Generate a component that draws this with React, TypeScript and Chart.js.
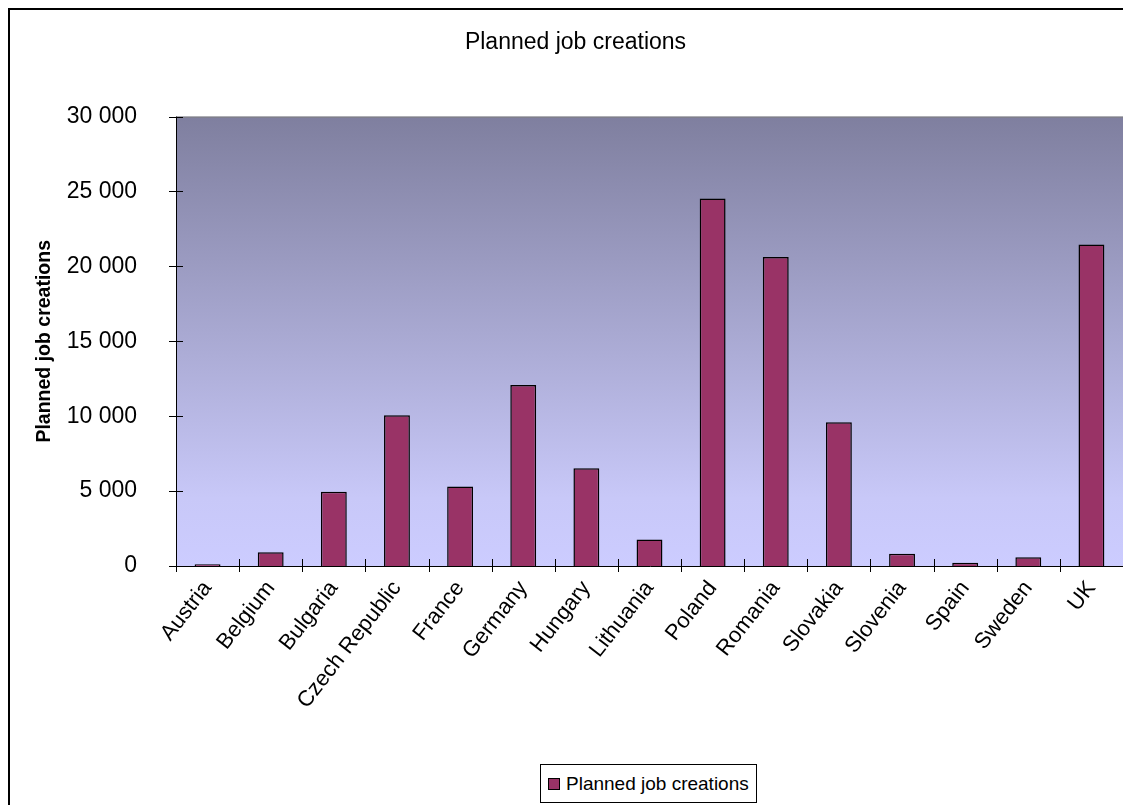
import React, { useEffect, useRef } from "react";
import { Chart, registerables } from "chart.js";

Chart.register(...registerables);

const categories = [
  "Austria", "Belgium", "Bulgaria", "Czech Republic", "France", "Germany", "Hungary",
  "Lithuania", "Poland", "Romania", "Slovakia", "Slovenia", "Spain", "Sweden", "UK",
];
const jobValues = [110, 920, 4950, 10070, 5300, 12080, 6520, 1770, 24530, 20620, 9590, 820, 220, 580, 21460];
const seriesName = "Planned job creations";
const chartTitle = "Planned job creations";
const yAxisTitle = "Planned job creations";
const yMin = 0;
const yMax = 30000;
const yStep = 5000;

const FONT = "'Liberation Sans', Arial, Helvetica, sans-serif";
const BAR_COLOR = "#993366";

function fmt(v: number): string {
  return String(v).replace(/\B(?=(\d{3})+(?!\d))/g, " ");
}

const decorPlugin = {
  id: "decor",
  beforeDraw(chart: any) {
    const { ctx, chartArea, width } = chart;
    ctx.save();
    ctx.fillStyle = "#000";
    ctx.fillRect(0, 0, 2, chart.height);
    ctx.fillRect(0, 0, width, 2);
    const g = ctx.createLinearGradient(0, chartArea.top, 0, chartArea.bottom);
    g.addColorStop(0, "#7f7f9f");
    g.addColorStop(0.85, "#c8c8f8");
    g.addColorStop(1, "#ccccff");
    ctx.fillStyle = g;
    ctx.fillRect(chartArea.left, chartArea.top, chartArea.right - chartArea.left, chartArea.bottom - chartArea.top);
    ctx.restore();
  },
  afterDatasetsDraw(chart: any) {
    const { ctx, chartArea } = chart;
    const { left, right, top, bottom } = chartArea;
    ctx.save();
    ctx.lineWidth = 1;
    ctx.strokeStyle = "#808080";
    ctx.beginPath();
    ctx.moveTo(left, top + 0.5);
    ctx.lineTo(right + 0.5, top + 0.5);
    ctx.lineTo(right + 0.5, bottom);
    ctx.stroke();
    ctx.strokeStyle = "#000";
    ctx.beginPath();
    ctx.moveTo(left + 0.5, top);
    ctx.lineTo(left + 0.5, bottom + 0.5);
    ctx.lineTo(right + 1, bottom + 0.5);
    ctx.stroke();
    const ys = chart.scales.y;
    ctx.beginPath();
    for (let v = yMin; v <= yMax; v += yStep) {
      const py = Math.round(ys.getPixelForValue(v)) + 0.5;
      ctx.moveTo(left - 7, py);
      ctx.lineTo(left + 7, py);
    }
    const n = categories.length;
    for (let i = 0; i <= n; i++) {
      const px = Math.round(left + (i * (right - left)) / n) + 0.5;
      ctx.moveTo(px, bottom - 7);
      ctx.lineTo(px, bottom + 6);
    }
    ctx.stroke();
    ctx.restore();
  },
};

export default function App() {
  const canvasRef = useRef<HTMLCanvasElement>(null);

  useEffect(() => {
    document.documentElement.style.overflow = "hidden";
    document.body.style.overflow = "hidden";
    const canvas = canvasRef.current;
    if (!canvas) return;
    const chart = new Chart(canvas, {
      type: "bar",
      data: {
        labels: categories,
        datasets: [
          {
            label: seriesName,
            data: jobValues,
            backgroundColor: BAR_COLOR,
            borderColor: "#000",
            borderWidth: 1.5,
            barPercentage: 0.41,
            categoryPercentage: 1,
          },
        ],
      },
      options: {
        animation: false,
        responsive: false,
        devicePixelRatio: 1,
        layout: { padding: { left: 20, right: 8, top: 0, bottom: 0 } },
        plugins: {
          legend: { display: false },
          tooltip: { enabled: false },
          title: {
            display: true,
            text: chartTitle,
            color: "#000",
            font: { family: FONT, size: 23, weight: "normal" },
            padding: { top: 21, bottom: 60 },
          },
        },
        scales: {
          x: {
            grid: { display: false, drawTicks: false },
            border: { display: false },
            ticks: {
              autoSkip: false,
              minRotation: 52,
              maxRotation: 52,
              padding: 10,
              color: "#000",
              font: { family: FONT, size: 22 },
            },
            afterFit(scale: any) {
              scale.height = 239;
            },
          },
          y: {
            min: yMin,
            max: yMax,
            grid: { display: false, drawTicks: false },
            border: { display: false },
            ticks: {
              stepSize: yStep,
              padding: 39,
              color: "#000",
              font: { family: FONT, size: 23 },
              callback: (v: any) => fmt(Number(v)),
            },
            title: {
              display: true,
              text: yAxisTitle,
              color: "#000",
              font: { family: FONT, size: 19.5, weight: "bold" },
              padding: { top: 5, bottom: 0 },
            },
            afterFit(scale: any) {
              scale.width = 148;
            },
          },
        },
      },
      plugins: [decorPlugin],
    });
    return () => chart.destroy();
  }, []);

  return (
    <div style={{ position: "relative", width: 1123, height: 797, overflow: "hidden" }}>
      <canvas ref={canvasRef} width={1123} height={797} style={{ display: "block", width: 1123, height: 797 }} />
      <div
        style={{
          position: "absolute",
          left: 532,
          top: 756,
          width: 217,
          height: 39,
          boxSizing: "border-box",
          border: "1px solid #000",
          background: "#fff",
          display: "flex",
          alignItems: "center",
          paddingLeft: 7,
          fontFamily: FONT,
          fontSize: 19,
          color: "#000",
          whiteSpace: "nowrap",
        }}
      >
        <span
          style={{
            display: "inline-block",
            width: 10,
            height: 10,
            background: BAR_COLOR,
            border: "1px solid #000",
            marginRight: 6,
          }}
        />
        <span>{seriesName}</span>
      </div>
    </div>
  );
}
